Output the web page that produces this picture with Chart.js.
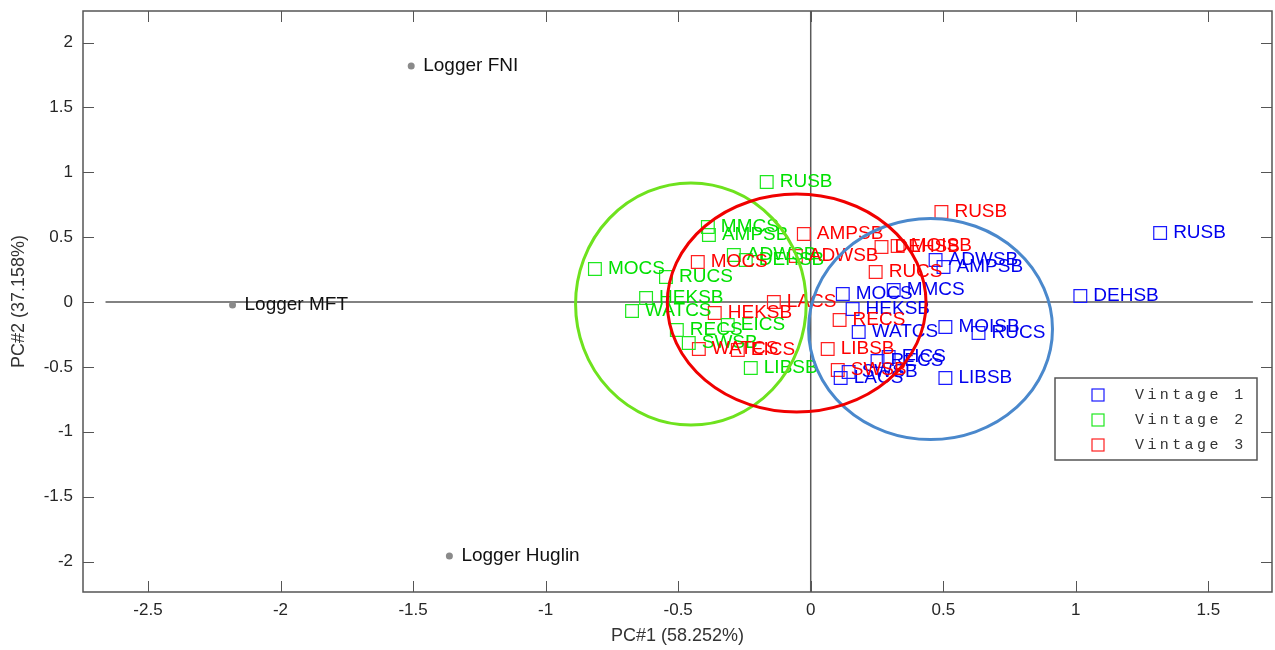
<!DOCTYPE html>
<html>
<head>
<meta charset="utf-8">
<script src="https://cdn.jsdelivr.net/npm/chart.js@4/dist/chart.umd.min.js"></script>
<style>
html,body{margin:0;padding:0;background:#fff;}
#wrap{width:1275px;height:650px;}
</style>
</head>
<body>
<div id="wrap"><canvas id="c" width="1275" height="650"></canvas></div>
<script>
// ---- Data ----
const xTitle = 'PC#1 (58.252%)';
const yTitle = 'PC#2 (37.158%)';

const v1Labels = ['RUSB','DEHSB','ADWSB','AMPSB','MOCS','MMCS','HEKSB','WATCS','MOISB','RUCS','RECS','EICS','SWSB','LIBSB','LACS'];
const v1X = [1.318,1.017,0.471,0.501,0.121,0.313,0.158,0.181,0.508,0.633,0.252,0.294,0.143,0.508,0.113];
const v1Y = [0.532,0.046,0.324,0.270,0.062,0.092,-0.054,-0.231,-0.193,-0.239,-0.455,-0.424,-0.540,-0.586,-0.586];

const v2Labels = ['RUSB','MMCS','AMPSB','ADWSB','DEHSB','MOCS','RUCS','HEKSB','WATCS','RECS','EICS','SWSB','LIBSB'];
const v2X = [-0.166,-0.388,-0.384,-0.290,-0.245,-0.814,-0.546,-0.621,-0.674,-0.505,-0.313,-0.460,-0.226];
const v2Y = [0.925,0.578,0.516,0.362,0.324,0.254,0.193,0.031,-0.069,-0.216,-0.177,-0.316,-0.509];

const v3Labels = ['RUSB','AMPSB','DEHSB','MOISB','ADWSB','MOCS','RUCS','LACS','HEKSB','RECS','LIBSB','SWSB','WATCS','EICS'];
const v3X = [0.493,-0.026,0.267,0.328,-0.056,-0.426,0.245,-0.139,-0.362,0.109,0.064,0.102,-0.422,-0.275];
const v3Y = [0.694,0.524,0.424,0.432,0.355,0.308,0.231,0.000,-0.085,-0.139,-0.362,-0.524,-0.362,-0.370];

const loggerLabels = ['Logger FNI','Logger MFT','Logger Huglin'];
const loggerX = [-1.507,-2.181,-1.363];
const loggerY = [1.819,-0.023,-1.958];

// group ellipses: centre x, centre y, radius x, radius y
const ellipseNames = ['Vintage 1','Vintage 2','Vintage 3'];
const ellipseCX = [0.452,-0.452,-0.053];
const ellipseCY = [-0.208,-0.015,-0.008];
const ellipseRX = [0.460,0.435,0.488];
const ellipseRY = [0.852,0.933,0.840];

const legendLabels = ['Vintage 1','Vintage 2','Vintage 3'];
const seriesColors = ['#1a1aff','#1ee81e','#ff2020'];
const textColors = ['#0000ee','#00e000','#ff0000'];
const ellipseColors = ['#4a88cc','#6ee21e','#f00000'];

const xMin = -2.745, xMax = 1.74, yMin = -2.235, yMax = 2.243;

function pts(xs, ys){ return xs.map((x,i)=>({x:x, y:ys[i]})); }

const FONT = '"Liberation Sans", Arial, sans-serif';

const overlay = {
  id: 'overlay',
  beforeDatasetsDraw(chart){
    const {ctx, chartArea:a, scales:{x, y}} = chart;
    ctx.save();
    ctx.strokeStyle = '#5a5a5a';
    ctx.lineWidth = 1.5;
    ctx.beginPath();
    ctx.moveTo(x.getPixelForValue(-2.66), y.getPixelForValue(0));
    ctx.lineTo(x.getPixelForValue(1.668), y.getPixelForValue(0));
    ctx.moveTo(x.getPixelForValue(0), a.top);
    ctx.lineTo(x.getPixelForValue(0), a.bottom);
    ctx.stroke();
    ctx.restore();
  },
  afterDatasetsDraw(chart){
    const {ctx, chartArea:a, scales:{x, y}} = chart;
    ctx.save();
    // point labels
    ctx.textBaseline = 'middle';
    ctx.textAlign = 'left';
    chart.data.datasets.forEach((ds, di) => {
      const meta = chart.getDatasetMeta(di);
      ctx.font = '19px ' + FONT;
      ctx.fillStyle = ds.labelColor;
      meta.data.forEach((el, i) => {
        ctx.fillText(ds.pointNames[i], el.x + ds.labelOffset, el.y);
      });
    });
    // ellipses
    ctx.lineWidth = 3;
    ellipseCX.forEach((cx, i) => {
      const px = x.getPixelForValue(cx), py = y.getPixelForValue(ellipseCY[i]);
      const rx = Math.abs(x.getPixelForValue(cx + ellipseRX[i]) - px);
      const ry = Math.abs(y.getPixelForValue(ellipseCY[i] + ellipseRY[i]) - py);
      ctx.strokeStyle = ellipseColors[i];
      ctx.beginPath();
      ctx.ellipse(px, py, rx, ry, 0, 0, Math.PI*2);
      ctx.stroke();
    });
    // box
    ctx.strokeStyle = '#555';
    ctx.lineWidth = 1.5;
    ctx.strokeRect(a.left, a.top, a.right - a.left, a.bottom - a.top);
    // inside ticks
    ctx.lineWidth = 1;
    ctx.strokeStyle = '#555';
    ctx.beginPath();
    x.ticks.forEach(t => {
      const px = Math.round(x.getPixelForValue(t.value)) + 0.5;
      ctx.moveTo(px, a.bottom); ctx.lineTo(px, a.bottom - 11);
      ctx.moveTo(px, a.top); ctx.lineTo(px, a.top + 11);
    });
    y.ticks.forEach(t => {
      const py = Math.round(y.getPixelForValue(t.value)) + 0.5;
      ctx.moveTo(a.left, py); ctx.lineTo(a.left + 11, py);
      ctx.moveTo(a.right, py); ctx.lineTo(a.right - 11, py);
    });
    ctx.stroke();
    // axis titles
    ctx.fillStyle = '#333';
    ctx.font = '18px ' + FONT;
    ctx.textAlign = 'center';
    ctx.textBaseline = 'middle';
    ctx.fillText(xTitle, (a.left + a.right)/2, 636);
    ctx.save();
    ctx.translate(19, (a.top + a.bottom)/2);
    ctx.rotate(-Math.PI/2);
    ctx.fillText(yTitle, 0, 0);
    ctx.restore();
    // legend
    const lx = 1055, ly = 378, lw = 202, lh = 82;
    ctx.fillStyle = '#fff';
    ctx.fillRect(lx, ly, lw, lh);
    ctx.strokeStyle = '#555';
    ctx.lineWidth = 1.5;
    ctx.strokeRect(lx, ly, lw, lh);
    ctx.font = '15px "Liberation Mono", "DejaVu Sans Mono", monospace';
    ctx.textAlign = 'left';
    legendLabels.forEach((lab, i) => {
      const cy = ly + 17 + i*25;
      ctx.strokeStyle = seriesColors[i];
      ctx.lineWidth = 1.2;
      ctx.strokeRect(1092, cy - 6, 12, 12);
      ctx.fillStyle = '#333';
      for (let k = 0; k < lab.length; k++) {
        ctx.fillText(lab[k], 1135 + k*12.4, cy);
      }
    });
    ctx.restore();
  }
};

function vintageDataset(i, xs, ys, names){
  return {
    label: legendLabels[i],
    data: pts(xs, ys),
    pointNames: names,
    labelColor: textColors[i],
    labelOffset: 13,
    pointStyle: 'rect',
    pointRadius: 9,
    pointHoverRadius: 9,
    borderWidth: 1.2,
    borderColor: seriesColors[i],
    backgroundColor: 'rgba(0,0,0,0)',
    showLine: false
  };
}

function noPad(s){ s.paddingLeft = 0; s.paddingRight = 0; s.paddingTop = 0; s.paddingBottom = 0; }

new Chart(document.getElementById('c'), {
  type: 'scatter',
  data: {
    datasets: [
      {
        label: 'Loggers',
        data: pts(loggerX, loggerY),
        pointNames: loggerLabels,
        labelColor: '#111',
        labelOffset: 12,
        pointStyle: 'circle',
        pointRadius: 3.5,
        pointHoverRadius: 3.5,
        borderWidth: 0,
        backgroundColor: '#8a8a8a',
        borderColor: '#8a8a8a',
        showLine: false
      },
      vintageDataset(0, v1X, v1Y, v1Labels),
      vintageDataset(1, v2X, v2Y, v2Labels),
      vintageDataset(2, v3X, v3Y, v3Labels)
    ]
  },
  options: {
    responsive: false,
    animation: false,
    events: [],
    layout: { autoPadding: false, padding: { top: 11, right: 3, left: 0, bottom: 0 } },
    plugins: { legend: { display: false }, tooltip: { enabled: false } },
    scales: {
      x: {
        type: 'linear', min: xMin, max: xMax,
        grid: { display: false, drawTicks: false },
        border: { display: false },
        ticks: {
          stepSize: 0.5, includeBounds: false, padding: 8,
          color: '#262626', font: { size: 17, family: FONT },
          callback: v => String(Math.round(v*10)/10)
        },
        afterFit: s => { s.height = 58; noPad(s); }
      },
      y: {
        type: 'linear', min: yMin, max: yMax,
        grid: { display: false, drawTicks: false },
        border: { display: false },
        ticks: {
          stepSize: 0.5, includeBounds: false, padding: 10,
          color: '#262626', font: { size: 17, family: FONT },
          callback: v => String(Math.round(v*10)/10)
        },
        afterFit: s => { s.width = 83; noPad(s); }
      }
    }
  },
  plugins: [overlay]
});
</script>
</body>
</html>
